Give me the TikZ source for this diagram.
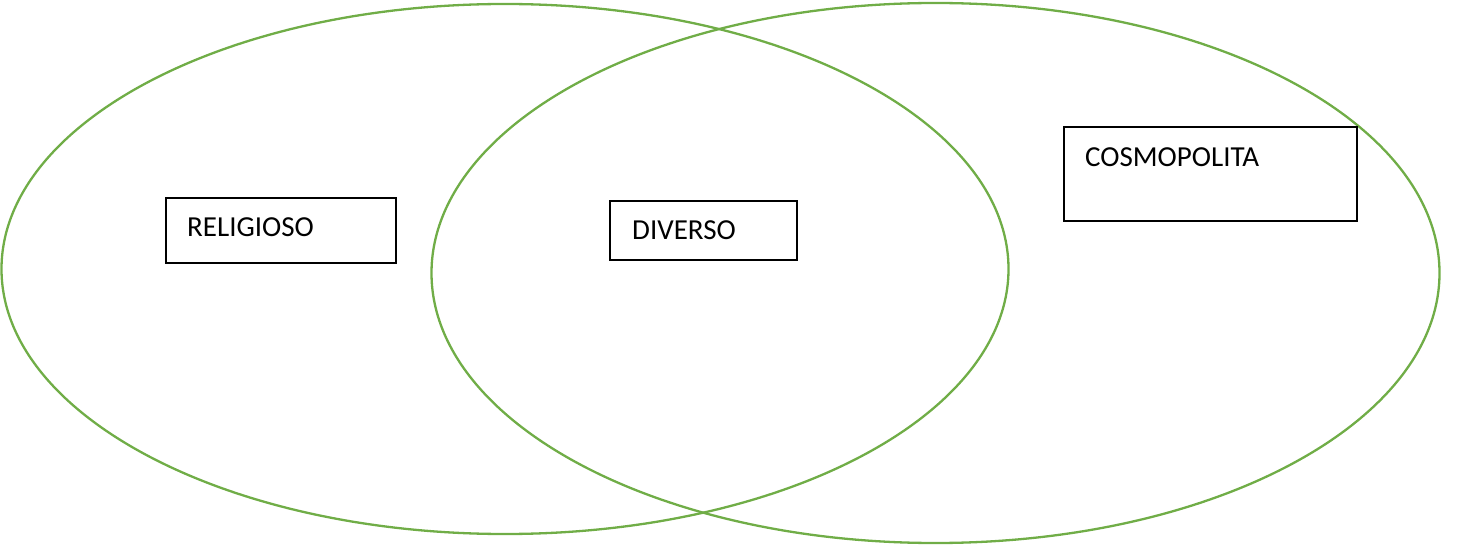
\documentclass[tikz,border=0pt]{standalone}
\usepackage{fontspec}
\setmainfont{Carlito}
\definecolor{vgreen}{HTML}{70AD47}
\begin{document}
\begin{tikzpicture}[x=1pt,y=-1pt,
  ring/.style={draw=vgreen,line width=2.3pt},
  box/.style={draw=black,fill=white,line width=1.8pt,inner sep=0pt},
  lbl/.style={anchor=base west,inner sep=0pt,font=\fontsize{29}{35}\selectfont}]
\useasboundingbox (0,0) rectangle (1458,545);
\draw[ring] (505,269) ellipse [x radius=503.5, y radius=265];
\draw[ring] (935.5,273) ellipse [x radius=504, y radius=270];
\node[box,minimum width=230pt,minimum height=65pt] (rel) at (281,230.5) {};
\node[box,minimum width=187pt,minimum height=59pt] (div) at (703.5,230.5) {};
\node[box,minimum width=293pt,minimum height=94pt] (cos) at (1210.5,174) {};
\node[lbl] (relt) at (187,237) {RELIGIOSO};
\node[lbl] (divt) at (632,240) {DIVERSO};
\node[lbl] (cost) at (1085,167) {COSMOPOLITA};
\end{tikzpicture}
\end{document}
